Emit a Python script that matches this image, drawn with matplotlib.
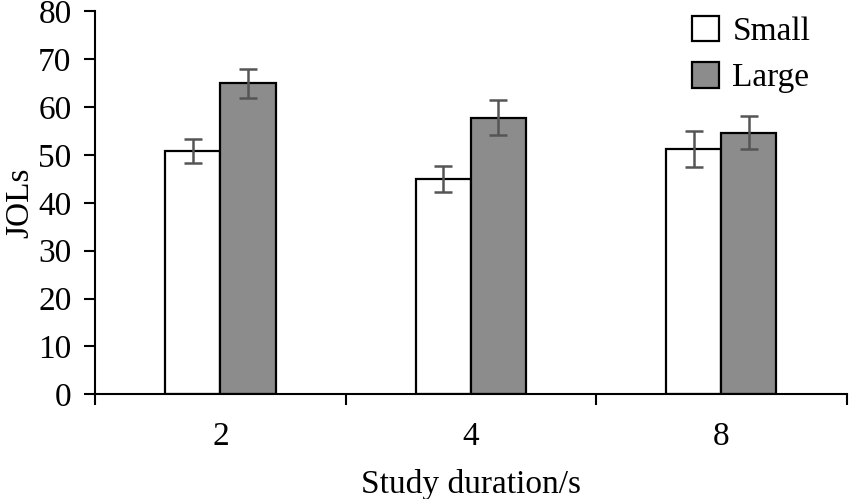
import numpy as np
import matplotlib
matplotlib.use("Agg")
import matplotlib.pyplot as plt

# Data
durations = ["2", "4", "8"]
small_means = [50.8, 45.0, 51.2]
large_means = [65.0, 57.8, 54.7]
small_err = [2.5, 2.7, 3.8]
large_err = [3.0, 3.6, 3.5]

plt.rcParams["font.family"] = ["Liberation Serif", "DejaVu Serif"]
plt.rcParams["font.size"] = 24

fig = plt.figure(figsize=(8.5, 4.99), dpi=100)
ax = fig.add_axes([0.112, 0.21, 0.884, 0.767])

x = np.arange(len(durations)) + 0.5
width = 0.22
err_kw = dict(ecolor="#555555", elinewidth=1.8, capsize=6.5, capthick=1.8)

ax.bar(x - width / 2, small_means, width, yerr=small_err, color="white",
       edgecolor="black", linewidth=1.6, label="Small", error_kw=err_kw)
ax.bar(x + width / 2, large_means, width, yerr=large_err, color="#8c8c8c",
       edgecolor="black", linewidth=1.6, label="Large", error_kw=err_kw)

ax.set_xlim(0, len(durations))
ax.set_ylim(0, 80)
ax.set_yticks(range(0, 81, 10))

# boundary ticks between groups, labels at group centres
ax.set_xticks(np.arange(len(durations) + 1))
ax.set_xticklabels([])
ax.set_xticks(x, minor=True)
ax.set_xticklabels(durations, minor=True)
ax.tick_params(axis="x", which="minor", length=0, pad=20)
ax.tick_params(axis="both", which="major", length=8, width=1.5, direction="out")
ax.tick_params(axis="y", pad=9)

for s in ["top", "right"]:
    ax.spines[s].set_visible(False)
for s in ["left", "bottom"]:
    ax.spines[s].set_linewidth(1.5)

ax.set_xlabel("Study duration/s", labelpad=12)
ax.set_ylabel("JOLs", labelpad=2)

fig.legend(loc="upper left", bbox_to_anchor=(0.795, 1.002), frameon=False,
           handlelength=0.8, handleheight=0.8, handletextpad=0.4,
           labelspacing=0.45, borderpad=0)

fig.savefig("out.png", dpi=100)
